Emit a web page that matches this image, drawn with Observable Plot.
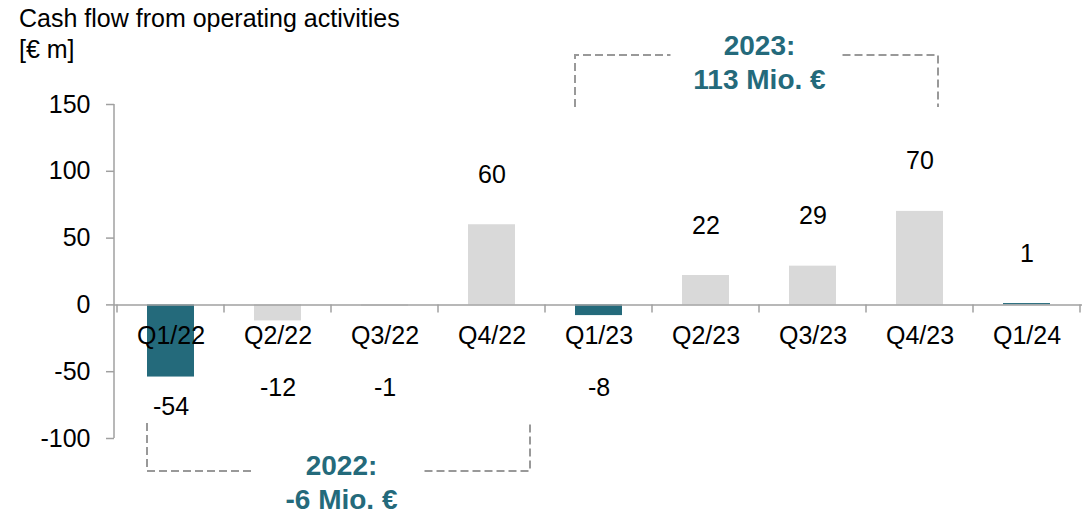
<!DOCTYPE html>
<html>
<head>
<meta charset="utf-8">
<script src="https://cdn.jsdelivr.net/npm/d3@7"></script>
<script src="https://cdn.jsdelivr.net/npm/@observablehq/plot@0.6"></script>
<style>
  html, body { margin: 0; padding: 0; background: #fff; }
  #wrap { position: relative; width: 1089px; height: 514px; font-family: "Liberation Sans", Arial, sans-serif; }
  #title { position: absolute; left: 19px; top: 3px; font-size: 25px; line-height: 31px; color: #000; z-index: 2; }
  svg { display: block; }
</style>
</head>
<body>
<div id="wrap">
  <div id="title">Cash flow from operating activities<br>[€ m]</div>
</div>
<script>
const categories = ["Q1/22","Q2/22","Q3/22","Q4/22","Q1/23","Q2/23","Q3/23","Q4/23","Q1/24"];
const values = [-54, -12, -1, 60, -8, 22, 29, 70, 1];
const highlighted = ["Q1/22","Q1/23","Q1/24"];
const yTicks = [-100, -50, 0, 50, 100, 150];
const groupLabels = ["2022:", "2023:"];
const groupTotals = ["-6 Mio. €", "113 Mio. €"];
const groupFrom = ["Q1/22", "Q1/23"];
const groupTo = ["Q4/22", "Q4/23"];

const TEAL = "#246a7b";
const GREY = "#d9d9d9";
const AXIS = "#a0a0a0";
const FONT = "'Liberation Sans', Arial, sans-serif";
const FS = 25;

const data = categories.map((q, i) => ({q, v: values[i], hl: highlighted.includes(q)}));

const plot = Plot.plot({
  width: 1089,
  height: 514,
  marginTop: 104,
  marginBottom: 76,
  marginLeft: 114,
  marginRight: 7,
  style: {fontFamily: FONT, fontSize: FS + "px", color: "#000", background: "transparent", overflow: "visible"},
  x: {domain: categories, padding: 0, axis: null},
  y: {domain: [-100, 150], axis: null},
  marks: [
    Plot.axisY(yTicks, {label: null, tickSize: 8, tickPadding: 16, tickFormat: d => String(d), stroke: AXIS, strokeWidth: 1.5, fill: "#000", fontSize: FS}),
    Plot.barY(data, {x: "q", y: "v", fill: d => d.hl ? TEAL : GREY, insetLeft: 30, insetRight: 30}),
    Plot.ruleY([0], {stroke: AXIS, strokeWidth: 1.5}),
    Plot.text(data, {x: "q", y: 0, text: "q", dy: 31, fontSize: FS, fill: "#000"}),
    Plot.text(data.filter(d => d.v >= 0), {x: "q", y: "v", text: d => String(d.v), dy: -50, fontSize: FS, fill: "#000"}),
    Plot.text(data.filter(d => d.v < 0), {x: "q", y: d => Math.min(d.v, -40), text: d => String(d.v), dy: 30, fontSize: FS, fill: "#000"})
  ]
});

document.getElementById("wrap").prepend(plot);
plot.style.position = "absolute";
plot.style.left = "0px";
plot.style.top = "0px";

// axis lines and boundary ticks using the plot's scales
const xs = plot.scale("x"), ys = plot.scale("y");
const svg = d3.select(plot);
const g = svg.append("g");
const y0 = ys.apply(0);
g.append("line")
  .attr("x1", 114).attr("x2", 114)
  .attr("y1", ys.apply(150)).attr("y2", ys.apply(-100))
  .attr("stroke", AXIS).attr("stroke-width", 1.5);
const bounds = categories.map(c => xs.apply(c)).concat([xs.apply(categories[categories.length - 1]) + xs.bandwidth]);
bounds.forEach(bx => {
  g.append("line").attr("x1", bx).attr("x2", bx).attr("y1", y0).attr("y2", y0 + 8)
    .attr("stroke", AXIS).attr("stroke-width", 1.5);
});

// year brackets
const inset = 30;
function bracket(i, topY, botY, textY1, up, rightPad) {
  const left = xs.apply(groupFrom[i]) + inset;
  const right = xs.apply(groupTo[i]) + xs.bandwidth - inset + rightPad;
  const cx = (left + right) / 2;
  const gap = 86;
  const hy = up ? topY : botY;
  const s = {stroke: "#999", "stroke-width": 2, "stroke-dasharray": "8,4", fill: "none"};
  const path = (d) => { const p = g.append("path").attr("d", d); Object.entries(s).forEach(([k, v]) => p.attr(k, v)); };
  path(`M${left},${up ? botY : topY}L${left},${hy}L${cx - gap},${hy}`);
  path(`M${cx + gap},${hy}L${right},${hy}L${right},${up ? botY : topY}`);
  [groupLabels[i], groupTotals[i]].forEach((t, k) => {
    g.append("text").attr("x", cx + 3).attr("y", textY1 + k * 34)
      .attr("text-anchor", "middle").attr("dy", "0.35em")
      .attr("font-family", FONT).attr("font-size", 28).attr("font-weight", "bold")
      .attr("fill", TEAL).text(t);
  });
}
bracket(0, 423, 471, 465, false, 15);
bracket(1, 55, 107, 45, true, -5);
</script>
</body>
</html>
